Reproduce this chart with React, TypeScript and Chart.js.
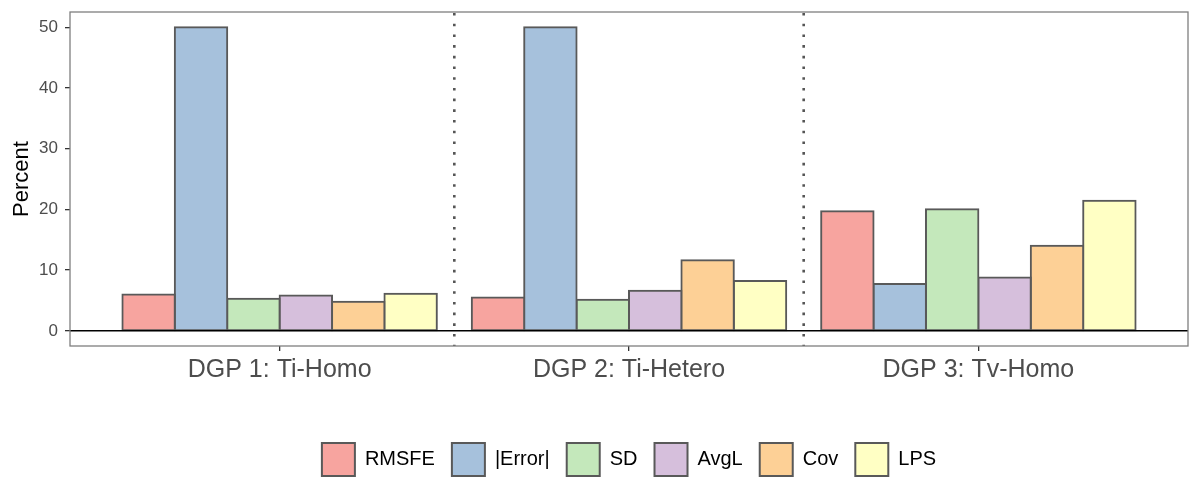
import { useEffect, useRef } from 'react';
import Chart from 'chart.js/auto';

// categories and series
const groups = ['DGP 1: Ti-Homo', 'DGP 2: Ti-Hetero', 'DGP 3: Tv-Homo'];
const metrics = ['RMSFE', '|Error|', 'SD', 'AvgL', 'Cov', 'LPS'];

const rmsfe = [6.0, 5.5, 19.7];
const absError = [50.0, 50.0, 7.7];
const sd = [5.3, 5.1, 20.0];
const avgL = [5.8, 6.6, 8.8];
const cov = [4.8, 11.6, 14.0];
const lps = [6.1, 8.2, 21.4];

const yTicks = [0, 10, 20, 30, 40, 50];
const groupBreaks = [1.5, 2.5];

const fills = ['#f7a49f', '#a6c1dc', '#c4e8bb', '#d6bfdc', '#fdd096', '#ffffc4'];

const panelPlugin = {
  id: 'panel',
  afterDatasetsDraw(chart: any) {
    const { ctx, chartArea: a, scales } = chart;
    const x = scales.x;
    const y = scales.y;
    ctx.save();

    // dotted separators between groups
    ctx.strokeStyle = '#555555';
    ctx.lineWidth = 2.6;
    ctx.setLineDash([2.6, 8.1]);
    groupBreaks.forEach(v => {
      const px = x.getPixelForValue(v);
      ctx.beginPath();
      ctx.moveTo(px, a.top + 1);
      ctx.lineTo(px, a.bottom);
      ctx.stroke();
    });

    // zero line
    ctx.setLineDash([]);
    ctx.strokeStyle = '#000000';
    ctx.lineWidth = 1.4;
    const zy = y.getPixelForValue(0);
    ctx.beginPath();
    ctx.moveTo(a.left, zy);
    ctx.lineTo(a.right, zy);
    ctx.stroke();

    // panel border
    ctx.strokeStyle = '#7f7f7f';
    ctx.lineWidth = 1.3;
    ctx.strokeRect(a.left, a.top, a.right - a.left, a.bottom - a.top);
    ctx.restore();
  }
};

export default function App() {
  const chartRef = useRef<HTMLCanvasElement>(null);
  const chartInstance = useRef<Chart | null>(null);

  useEffect(() => {
    document.body.style.margin = '0';
    if (!chartRef.current) return;
    if (chartInstance.current) {
      chartInstance.current.destroy();
    }
    const ctx = chartRef.current.getContext('2d');
    if (!ctx) return;

    Chart.defaults.font.family = '"Liberation Sans", Arial, sans-serif';

    const series = [rmsfe, absError, sd, avgL, cov, lps];

    chartInstance.current = new Chart(ctx, {
      type: 'bar',
      data: {
        datasets: series.map((values, i) => ({
          label: metrics[i],
          data: values.map((v, g) => ({ x: g + 1, y: v })),
          backgroundColor: fills[i],
          borderColor: '#595959',
          borderWidth: 2,
          borderSkipped: false,
          inflateAmount: 1,
          categoryPercentage: 0.9,
          barPercentage: 1.0
        }))
      },
      options: {
        responsive: false,
        animation: false,
        events: [],
        layout: {
          padding: { top: 12, right: 12, bottom: 14, left: 0 }
        },
        plugins: {
          tooltip: { enabled: false },
          legend: {
            position: 'bottom',
            fullSize: false,
            labels: {
              boxWidth: 33,
              boxHeight: 33,
              padding: 17,
              color: '#000000',
              font: { size: 20 }
            }
          }
        },
        scales: {
          x: {
            type: 'linear',
            min: 0.4,
            max: 3.6,
            offset: false,
            afterBuildTicks: (s: any) => {
              s.ticks = groups.map((_, i) => ({ value: i + 1 }));
            },
            afterFit: (s: any) => {
              s.height = 80;
              s.paddingLeft = 0;
              s.paddingRight = 0;
            },
            grid: {
              offset: false,
              drawOnChartArea: false,
              drawTicks: true,
              tickLength: 5,
              color: '#333333',
              lineWidth: 1.3
            },
            border: { display: false },
            ticks: {
              color: '#4d4d4d',
              font: { size: 25 },
              padding: 4,
              maxRotation: 0,
              autoSkip: false,
              callback: (v: any) => groups[Math.round(Number(v)) - 1]
            }
          },
          y: {
            min: -2.5,
            max: 52.5,
            afterBuildTicks: (s: any) => {
              s.ticks = yTicks.map(value => ({ value }));
            },
            afterFit: (s: any) => {
              s.width = 70;
              s.paddingTop = 0;
              s.paddingBottom = 0;
            },
            grid: {
              drawOnChartArea: false,
              drawTicks: true,
              tickLength: 5,
              color: '#333333',
              lineWidth: 1.3
            },
            border: { display: false },
            ticks: {
              color: '#4d4d4d',
              font: { size: 17 },
              padding: 7
            },
            title: {
              display: true,
              text: 'Percent',
              color: '#000000',
              font: { size: 22 },
              padding: { top: 9, bottom: 0 }
            }
          }
        }
      },
      plugins: [panelPlugin]
    } as any);

    return () => {
      if (chartInstance.current) {
        chartInstance.current.destroy();
        chartInstance.current = null;
      }
    };
  }, []);

  return (
    <div style={{ width: 1200, height: 500, background: '#ffffff' }}>
      <canvas ref={chartRef} width={1200} height={500} />
    </div>
  );
}
